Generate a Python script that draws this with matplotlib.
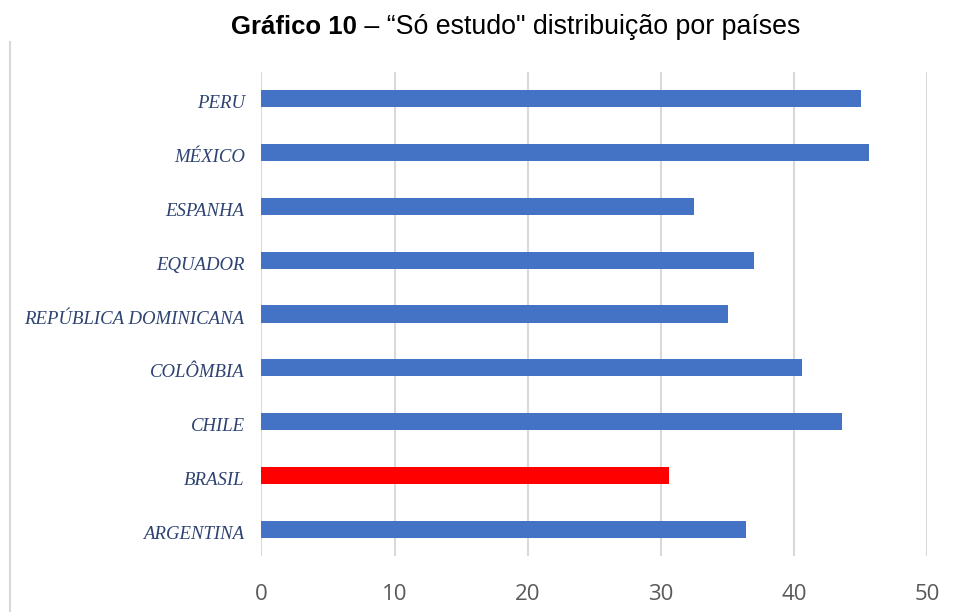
import matplotlib
matplotlib.use("Agg")
import matplotlib.pyplot as plt
from matplotlib.lines import Line2D
from matplotlib.transforms import ScaledTranslation

# dados
paises = ["ARGENTINA", "BRASIL", "CHILE", "COLÔMBIA", "REPÚBLICA DOMINICANA",
          "EQUADOR", "ESPANHA", "MÉXICO", "PERU"]
valores = [36.4, 30.6, 43.6, 40.6, 35.0, 37.0, 32.5, 45.6, 45.0]
cores = ["#4472C4", "#FF0000", "#4472C4", "#4472C4", "#4472C4",
         "#4472C4", "#4472C4", "#4472C4", "#4472C4"]
xticks = [0, 10, 20, 30, 40, 50]

W, H = 958, 612
fig = plt.figure(figsize=(W / 100, H / 100), dpi=100)
ax = fig.add_axes([261.3 / W, 1 - 556 / H, 666 / W, 484 / H])

ax.barh(range(len(paises)), valores, height=0.32, color=cores, zorder=3)
ax.set_xlim(0, 50)
ax.set_ylim(-0.5, len(paises) - 0.5)
ax.set_xticks(xticks)
ax.set_xticklabels([str(t) for t in xticks], fontsize=16, color="#595959",
                   family="Open Sans")
ax.set_yticks(range(len(paises)))
ax.set_yticklabels(paises, fontsize=13.5, style="italic", color="#2E4372",
                   family="Liberation Serif")
ax.tick_params(axis="x", length=0, pad=20)
ax.tick_params(axis="y", length=0, pad=12)
# rótulos do eixo y um pouco abaixo do centro da barra
desloc = ScaledTranslation(0, -3 / 100, fig.dpi_scale_trans)
for lbl in ax.get_yticklabels():
    lbl.set_transform(lbl.get_transform() + desloc)
ax.grid(axis="x", color="#D9D9D9", linewidth=1.5, zorder=0)
for s in ax.spines.values():
    s.set_visible(False)

# borda esquerda do quadro
fig.add_artist(Line2D([9.5 / W, 9.5 / W], [0, 1 - 42 / H],
                      color="#D9D9D9", linewidth=1.5))

# título com parte em negrito
fig.text(357 / W, 1 - 34 / H, "Gráfico 10", ha="right", va="baseline",
         fontsize=18.5, fontweight="bold", family="Liberation Sans")
fig.text(357 / W, 1 - 34 / H, " – “Só estudo\" distribuição por países",
         ha="left", va="baseline", fontsize=19.3, family="Liberation Sans")

fig.savefig("out.png", dpi=100)
